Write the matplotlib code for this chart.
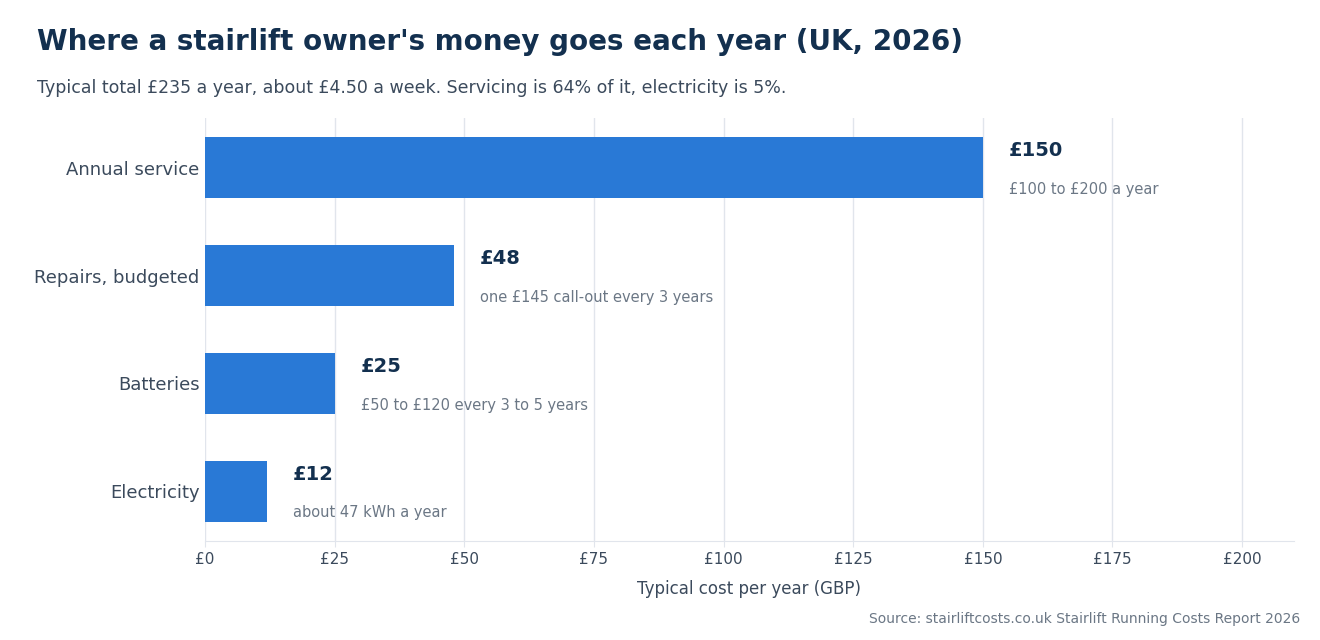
import matplotlib
matplotlib.use('Agg')
import matplotlib.pyplot as plt

categories = ["Annual service", "Repairs, budgeted", "Batteries", "Electricity"]
costs = [150, 48, 25, 12]
notes = ["£100 to £200 a year", "one £145 call-out every 3 years",
         "£50 to £120 every 3 to 5 years", "about 47 kWh a year"]
ticks = [0, 25, 50, 75, 100, 125, 150, 175, 200]

NAVY = '#13304f'
SLATE = '#3b4a5c'
GREY = '#6b7785'
BLUE = '#2979d6'
GRID = '#e1e5ec'

plt.rcParams['font.family'] = ['DejaVu Sans']

fig = plt.figure(figsize=(13.2, 6.4), dpi=100)
ax = fig.add_axes([0.1553, 0.1547, 0.825, 0.6609])

y = list(range(len(categories)))
ax.barh(y, costs, height=0.56, color=BLUE, zorder=3)

for yi, v, note in zip(y, costs, notes):
    ax.text(v + 5, yi - 0.16, f"£{v}", fontsize=14, fontweight='bold',
            color=NAVY, va='center', ha='left')
    ax.text(v + 5, yi + 0.20, note, fontsize=10.5, color=GREY,
            va='center', ha='left')

ax.set_xlim(0, 210)
ax.set_ylim(3.46, -0.46)
ax.set_yticks(y)
ax.set_yticklabels(categories, fontsize=13, color=SLATE)
ax.set_xticks(ticks)
ax.set_xticklabels([f"£{t}" for t in ticks], fontsize=11, color=SLATE)
ax.tick_params(axis='y', length=0, pad=4)
ax.tick_params(axis='x', length=4, color=GRID, pad=4)
ax.grid(axis='x', color=GRID, linewidth=1, zorder=0)
for s in ['top', 'right', 'left']:
    ax.spines[s].set_visible(False)
ax.spines['bottom'].set_color(GRID)
ax.set_xlabel("Typical cost per year (GBP)", fontsize=12, color=SLATE,
              labelpad=9)

fig.text(0.028, 0.935, "Where a stairlift owner's money goes each year (UK, 2026)",
         fontsize=20, fontweight='bold', color=NAVY, va='center')
fig.text(0.028, 0.863, "Typical total £235 a year, about £4.50 a week. "
         "Servicing is 64% of it, electricity is 5%.",
         fontsize=12.5, color=SLATE, va='center')
fig.text(0.985, 0.033, "Source: stairliftcosts.co.uk Stairlift Running Costs Report 2026",
         fontsize=10, color=GREY, ha='right', va='center')

fig.savefig('out.png', dpi=100)
